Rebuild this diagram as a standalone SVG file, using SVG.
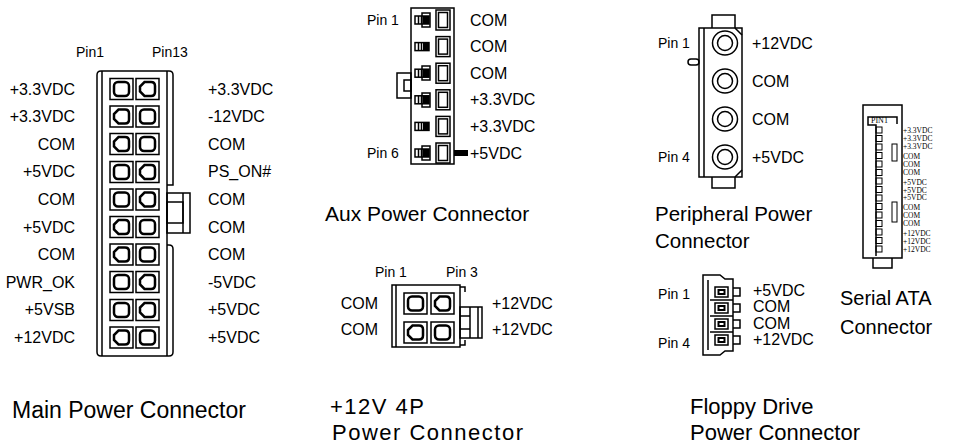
<svg xmlns="http://www.w3.org/2000/svg" width="955" height="446" viewBox="0 0 955 446">
<style>
.ln{fill:none;stroke:#000;stroke-width:1.5}
.th{fill:none;stroke:#000;stroke-width:2.5}
.fb{fill:#000;stroke:none}
.t{font-family:"Liberation Sans",Arial,sans-serif;font-size:16px;fill:#000}
.pl{font-family:"Liberation Sans",Arial,sans-serif;font-size:14px;fill:#000}
.ttl{font-family:"Liberation Sans",Arial,sans-serif;font-size:22px;fill:#000}
.sp{letter-spacing:1.5px}
.s{font-family:"Liberation Serif","Times New Roman",serif;font-size:7.5px;fill:#000}
.e{text-anchor:end}
</style>
<defs>
<g id="pa"><rect class="ln" x="0" y="0" width="23" height="21"/><rect class="th" x="4" y="3.5" width="15" height="14" rx="4"/></g>
<g id="pb"><rect class="ln" x="0" y="0" width="23" height="21"/><path class="th" d="M8.5,3.5 H15 Q19,3.5 19,7.5 V13.5 Q19,17.5 15,17.5 H8.5 L4,13 V8 Z"/></g>
<g id="ap"><rect class="ln" x="0" y="-4" width="14" height="8"/><path class="ln" d="M3.5,-4 V4 M6.5,-4 V4"/><rect class="fb" x="8" y="-4" width="6" height="8"/></g>
<g id="ar"><rect class="ln" x="0" y="-10" width="14" height="20"/><rect class="ln" x="2.5" y="-7.5" width="9" height="15"/></g>
<g id="pe"><ellipse class="ln" cx="0" cy="0" rx="12.5" ry="12"/><circle class="ln" cx="0" cy="0" r="7.5"/></g>
<g id="fp"><rect class="ln" x="0" y="-5" width="13" height="10"/><rect class="ln" x="3.5" y="-2" width="6" height="4" style="stroke-width:2"/><path class="ln" d="M18,-4 H25 V4 H18"/></g>
</defs>

<g id="main">
<text class="pl" x="76" y="57">Pin1</text>
<text class="pl" x="152" y="57">Pin13</text>
<path class="ln" d="M97,352 V75 Q97,71 101,71 H169 Q173,71 173,75 V185 H167 M167,245 H169 Q173,245 173,249 V352 Q173,356 169,356 H101 Q97,356 97,352 M102,71 V356 M167,71 V356"/>
<rect class="ln" x="167" y="193" width="23" height="40"/>
<path class="ln" d="M183,193 V233"/>
<rect class="ln" x="167" y="202" width="16" height="21"/>
<use href="#pa" x="110" y="78.5"/><use href="#pb" x="136" y="78.5"/>
<use href="#pb" x="110" y="106"/><use href="#pa" x="136" y="106"/>
<use href="#pb" x="110" y="133.5"/><use href="#pa" x="136" y="133.5"/>
<use href="#pa" x="110" y="161.5"/><use href="#pb" x="136" y="161.5"/>
<use href="#pa" x="110" y="189"/><use href="#pb" x="136" y="189"/>
<use href="#pb" x="110" y="216.5"/><use href="#pa" x="136" y="216.5"/>
<use href="#pb" x="110" y="244"/><use href="#pa" x="136" y="244"/>
<use href="#pa" x="110" y="271.5"/><use href="#pb" x="136" y="271.5"/>
<use href="#pa" x="110" y="299.5"/><use href="#pb" x="136" y="299.5"/>
<use href="#pb" x="110" y="327"/><use href="#pa" x="136" y="327"/>
<text class="t e" x="75" y="94.5">+3.3VDC</text>
<text class="t e" x="75" y="122">+3.3VDC</text>
<text class="t e" x="75" y="150">COM</text>
<text class="t e" x="75" y="177">+5VDC</text>
<text class="t e" x="75" y="205">COM</text>
<text class="t e" x="75" y="232.5">+5VDC</text>
<text class="t e" x="75" y="260">COM</text>
<text class="t e" x="75" y="288">PWR_OK</text>
<text class="t e" x="75" y="315">+5VSB</text>
<text class="t e" x="75" y="343">+12VDC</text>
<text class="t" x="208" y="94.5">+3.3VDC</text>
<text class="t" x="208" y="122">-12VDC</text>
<text class="t" x="208" y="150">COM</text>
<text class="t" x="208" y="177">PS_ON#</text>
<text class="t" x="208" y="205">COM</text>
<text class="t" x="208" y="232.5">COM</text>
<text class="t" x="208" y="260">COM</text>
<text class="t" x="208" y="288">-5VDC</text>
<text class="t" x="208" y="315">+5VDC</text>
<text class="t" x="208" y="343">+5VDC</text>
<text class="ttl" x="12" y="418" style="font-size:23px">Main Power Connector</text>
</g>

<g id="aux">
<rect class="ln" x="411" y="8" width="43" height="156"/>
<rect class="ln" x="397" y="73" width="14" height="25"/>
<rect class="ln" x="404" y="80" width="7" height="11"/>
<use href="#ap" x="415" y="20"/><use href="#ap" x="415" y="46.6"/><use href="#ap" x="415" y="73.2"/>
<use href="#ap" x="415" y="99.8"/><use href="#ap" x="415" y="126.4"/><use href="#ap" x="415" y="153"/>
<rect class="ln" x="422" y="13" width="8" height="14"/>
<rect class="ln" x="422" y="66" width="8" height="14"/>
<rect class="ln" x="422" y="93" width="8" height="14"/>
<rect class="ln" x="422" y="146" width="8" height="14"/>
<use href="#ar" x="436" y="20"/><use href="#ar" x="436" y="46.6"/><use href="#ar" x="436" y="73.2"/>
<use href="#ar" x="436" y="99.8"/><use href="#ar" x="436" y="126.4"/><use href="#ar" x="436" y="153"/>
<rect class="fb" x="454" y="150" width="14" height="6"/>
<text class="pl" x="367" y="25">Pin 1</text>
<text class="pl" x="367" y="158">Pin 6</text>
<text class="t" x="470" y="25.5">COM</text>
<text class="t" x="470" y="52">COM</text>
<text class="t" x="470" y="78.5">COM</text>
<text class="t" x="470" y="105">+3.3VDC</text>
<text class="t" x="470" y="132">+3.3VDC</text>
<text class="t" x="470" y="158.5">+5VDC</text>
<text class="ttl" x="325" y="220.5" style="font-size:21px">Aux Power Connector</text>
</g>

<g id="p4">
<path class="ln" d="M392,285 H460 V347 H392 Z M396,285 V347 M460,287 H465 V292 M460,345 H465 V340"/>
<rect class="ln" x="460" y="307" width="22" height="31"/>
<path class="ln" d="M470,307 V338 M478,307 V338 M460,316 H470 M460,329 H470"/>
<use href="#pa" x="404" y="293"/><use href="#pb" x="431" y="293"/>
<use href="#pb" x="404" y="322"/><use href="#pa" x="431" y="322"/>
<text class="pl" x="375" y="277">Pin 1</text>
<text class="pl" x="446" y="277">Pin 3</text>
<text class="t e" x="378" y="308.5">COM</text>
<text class="t e" x="378" y="334.5">COM</text>
<text class="t" x="492" y="308.5">+12VDC</text>
<text class="t" x="492" y="334.5">+12VDC</text>
<text class="ttl sp" x="330" y="414">+12V 4P</text>
<text class="ttl sp" x="332" y="440">Power Connector</text>
</g>

<g id="periph">
<rect class="ln" x="699" y="28" width="43" height="149"/>
<path class="ln" d="M704,28 V177 M712,28 V15 H735 V28 M712,177 V188 H735 V177 M735,28 L742,35 M735,177 L742,170"/>
<rect class="ln" x="688" y="59" width="11" height="6" rx="3"/>
<use href="#pe" x="725" y="43"/><use href="#pe" x="725" y="81"/>
<use href="#pe" x="725" y="119"/><use href="#pe" x="725" y="157"/>
<text class="pl" x="658" y="48">Pin 1</text>
<text class="pl" x="658" y="162">Pin 4</text>
<text class="t" x="752" y="48.5">+12VDC</text>
<text class="t" x="752" y="86.5">COM</text>
<text class="t" x="752" y="124.5">COM</text>
<text class="t" x="752" y="162.5">+5VDC</text>
<text class="ttl" x="655" y="220.5" style="font-size:20.5px">Peripheral Power</text>
<text class="ttl" x="655" y="247.5" style="font-size:20.5px">Connector</text>
</g>

<g id="sata">
<rect class="ln" x="863" y="105" width="39" height="153"/>
<path class="ln" d="M873,258 V268 H892 V258 M897,124 V117 H868 V125 H876 V256"/>
<g class="ln" style="stroke-width:1">
<rect x="876" y="127" width="6" height="6"/><rect x="876" y="135.5" width="6" height="6"/><rect x="876" y="144" width="6" height="6"/>
<rect x="876" y="152.5" width="6" height="6"/><rect x="876" y="161" width="6" height="6"/><rect x="876" y="169.5" width="6" height="6"/>
<rect x="876" y="178" width="6" height="6"/><rect x="876" y="186.5" width="6" height="6"/><rect x="876" y="195" width="6" height="6"/>
<rect x="876" y="203.5" width="6" height="6"/><rect x="876" y="212" width="6" height="6"/><rect x="876" y="220.5" width="6" height="6"/>
<rect x="876" y="229" width="6" height="6"/><rect x="876" y="237.5" width="6" height="6"/><rect x="876" y="246" width="6" height="6"/>
<rect x="892" y="144" width="5" height="17"/><rect x="892" y="202" width="5" height="20"/>
</g>
<text class="s" x="871" y="123.3" style="font-size:8px">PIN1</text>
<text class="s" x="903" y="133">+3.3VDC</text>
<text class="s" x="903" y="141">+3.3VDC</text>
<text class="s" x="903" y="149">+3.3VDC</text>
<text class="s" x="903" y="159">COM</text>
<text class="s" x="903" y="166.5">COM</text>
<text class="s" x="903" y="175">COM</text>
<text class="s" x="903" y="185">+5VDC</text>
<text class="s" x="903" y="192.5">+5VDC</text>
<text class="s" x="903" y="200">+5VDC</text>
<text class="s" x="903" y="210">COM</text>
<text class="s" x="903" y="218">COM</text>
<text class="s" x="903" y="226">COM</text>
<text class="s" x="903" y="236">+12VDC</text>
<text class="s" x="903" y="244">+12VDC</text>
<text class="s" x="903" y="252">+12VDC</text>
<text class="ttl" x="840" y="304.5" style="font-size:20px">Serial ATA</text>
<text class="ttl" x="840" y="333.5" style="font-size:20px">Connector</text>
</g>

<g id="floppy">
<path class="ln" d="M703,275 H720 L725,279 H733 V351 H725 L720,355 H703 Z M708,280 V350 M710,300 H733 M710,316 H733 M710,332 H733"/>
<use href="#fp" x="715" y="292"/><use href="#fp" x="715" y="308"/>
<use href="#fp" x="715" y="324"/><use href="#fp" x="715" y="340"/>
<text class="pl e" x="690" y="299">Pin 1</text>
<text class="pl e" x="690" y="348">Pin 4</text>
<text class="t" x="753" y="295.5">+5VDC</text>
<text class="t" x="753" y="311.5">COM</text>
<text class="t" x="753" y="328.5">COM</text>
<text class="t" x="753" y="344.5">+12VDC</text>
<text class="ttl" x="690" y="414">Floppy Drive</text>
<text class="ttl" x="690" y="440">Power Connector</text>
</g>

<g id="connectors"></g>
</svg>
